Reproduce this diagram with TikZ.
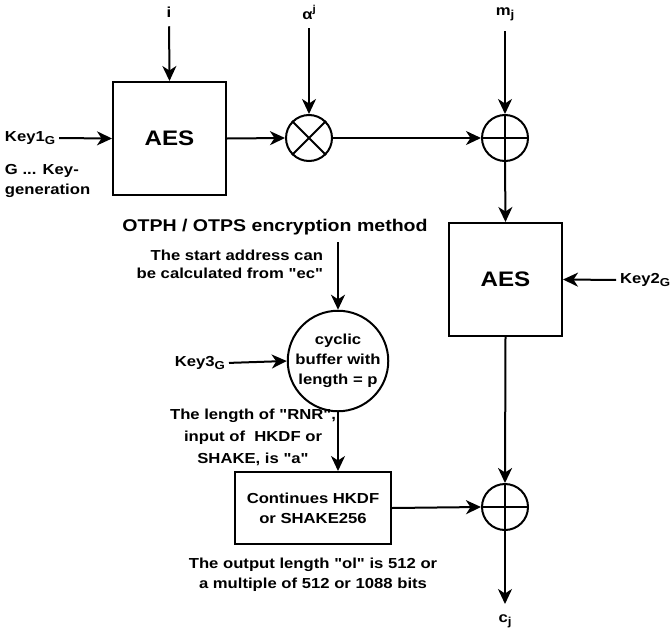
\documentclass[tikz,border=0pt]{standalone}
\usepackage{fontspec}
\setmainfont{Liberation Sans}[Ligatures=TeXOff, FakeStretch=1.15]
\usetikzlibrary{arrows.meta}
\newcommand\mysub[1]{\raisebox{-0.35ex}{\fontsize{11.5}{11.5}\selectfont #1}}
\newcommand\mysup[1]{\raisebox{0.9ex}{\fontsize{10}{10}\selectfont #1}}
\begin{document}
\begin{tikzpicture}[x=1pt,y=-1pt,
  line width=2pt,
  arr/.style={-{Stealth[length=15pt,width=14pt,inset=4.5pt]}},
  blk/.style={draw, minimum width=113pt, minimum height=113pt, font=\fontsize{21}{24}\selectfont\bfseries, inner sep=0},
  lbl/.style={font=\fontsize{14.5}{20}\selectfont\bfseries, inner sep=0, align=center},
  op/.style={draw, circle, minimum size=46pt, inner sep=0},
]
\useasboundingbox (0,0) rectangle (672,632);
% top chain
\node[blk] (aes1) at (169.5,138.5) {AES};
\node[lbl] (i) at (169,12) {i};
\node[lbl] (alpha) at (309,12) {α\mysup{j}};
\node[lbl] (mj) at (505,14) {m\mysub{j}};
\node[op] (mul) at (309,138) {};
\draw (mul.north west) -- (mul.south east) (mul.north east) -- (mul.south west);
\node[op] (add1) at (505,138) {};
\draw (add1.north) -- (add1.south) (add1.west) -- (add1.east);
\node[blk] (aes2) at (505.5,279.5) {AES};
\node[op] (add2) at (505,507) {};
\draw (add2.north) -- (add2.south) (add2.west) -- (add2.east);
\node[lbl] (cj) at (505,621) {c\mysub{j}};
\node[lbl, anchor=west] (key1) at (4,138) {Key1\mysub{G}};
\node[lbl, anchor=north west, align=left] (gnote) at (4,163) {G ... Key-\\generation};
\node[lbl, anchor=west] (key2) at (619,280) {Key2\mysub{G}};
% lower part
\node[font=\fontsize{17}{20}\selectfont\bfseries, inner sep=0] (title) at (275,227) {OTPH / OTPS encryption method};
\node[lbl, align=right, anchor=east, font=\fontsize{14.5}{18}\selectfont\bfseries] (start) at (324,264) {The start address can\\be calculated from "ec"};
\node[draw, circle, minimum size=98pt, lbl] (buf) at (338,361) {cyclic\\buffer with\\length = p};
\node[lbl, anchor=east] (key3) at (226,363) {Key3\mysub{G}};
\node[lbl, font=\fontsize{14.5}{22}\selectfont\bfseries] (rnr) at (253,437) {The length of "RNR",\\input of\ \ HKDF or\\SHAKE, is "a"};
\node[draw, lbl, minimum width=156pt, minimum height=72pt] (hkdf) at (313,508) {Continues HKDF\\or SHAKE256};
\node[lbl] (ol) at (313,575) {The output length "ol" is 512 or\\a multiple of 512 or 1088 bits};
\coordinate (cjend) at (505,604);
\coordinate (startin) at (338,242);
% connectors
\draw[arr, shorten <=8pt] (i.south) -- (aes1.north);
\draw[arr, shorten <=8pt] (alpha.south) -- (mul.north);
\draw[arr, shorten <=10pt] (mj.south) -- (add1.north);
\draw[arr, shorten <=3pt] (key1.east) -- (aes1.west);
\draw[arr] (aes1.east) -- (mul.west);
\draw[arr] (mul.east) -- (add1.west);
\draw[arr] (add1.south) -- (aes2.north);
\draw[arr, shorten <=3pt] (key2.west) -- (aes2.east);
\draw[arr] (aes2.south) -- (add2.north);
\draw[arr] (add2.south) -- (cjend);
\draw[arr] (startin) -- (buf.north);
\draw[arr, shorten <=3pt] (key3.east) -- (buf.west);
\draw[arr] (buf.south) -- (hkdf.north -| buf.south);
\draw[arr] (hkdf.east) -- (add2.west);
\end{tikzpicture}
\end{document}
